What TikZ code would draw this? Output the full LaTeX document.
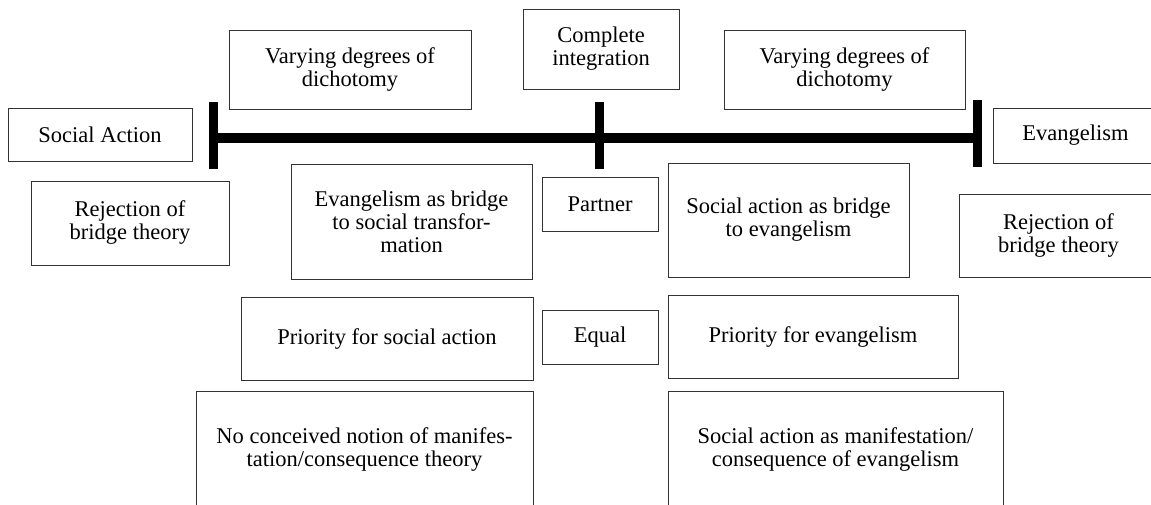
\documentclass[tikz,border=0pt]{standalone}
\usepackage{fontspec}
\setmainfont{Liberation Serif}
\newfontfamily\boxfont{Liberation Serif}

\begin{document}
\begin{tikzpicture}[
x=1pt,y=-1pt,
every node/.style={
draw=black!80,
line width=0.9pt,
inner sep=0pt,
align=center,
font=\boxfont\fontsize{22.5}{23}\selectfont
},
bar/.style={line width=10pt},
tick/.style={line width=9pt}
]
\useasboundingbox (0,0) rectangle (1151,504);

\coordinate (barL) at (213,138);
\coordinate (barM) at (599.5,138);
\coordinate (barR) at (977.5,138);

\draw[bar] (barL)--(barR);
\draw[tick] (barL) ++(0,-36) -- ++(0,67);
\draw[tick] (barM) ++(0,-36) -- ++(0,67);
\draw[tick] (barR) ++(0,-38) -- ++(0,67);

\node[minimum width=184pt,minimum height=53pt] (social) at (100,134.5) {Social Action};
\node[minimum width=242pt,minimum height=79pt] (varyL) at (350,69.5) {Varying degrees of\\dichotomy};
\node[minimum width=156pt,minimum height=80pt] (complete) at (601,49) {Complete\\integration};
\node[minimum width=241pt,minimum height=79pt] (varyR) at (844.5,69.5) {Varying degrees of\\dichotomy};
\node[minimum width=165pt,minimum height=55pt] (evang) at (1075.5,135.5) {Evangelism};

\node[minimum width=198pt,minimum height=84pt] (rejectL) at (130,223) {Rejection of\\bridge theory};
\node[minimum width=241pt,minimum height=115pt] (evbridge) at (411.5,221.5) {Evangelism as bridge\\to social transfor-\\mation};
\node[minimum width=116pt,minimum height=54pt] (partner) at (600,204) {Partner};
\node[minimum width=241pt,minimum height=114pt] (sabridge) at (788.5,220) {Social action as bridge\\to evangelism};
\node[minimum width=199pt,minimum height=83pt] (rejectR) at (1058.5,235.5) {Rejection of\\bridge theory};

\node[minimum width=292pt,minimum height=83pt] (priosa) at (387,338.5) {Priority for social action};
\node[minimum width=116pt,minimum height=54pt] (equal) at (600,337) {Equal};
\node[minimum width=290pt,minimum height=83pt] (prioev) at (813,336.5) {Priority for evangelism};

\node[minimum width=337pt,minimum height=117pt] (nonotion) at (364.5,449.5) {No conceived notion of manifes-\\tation/consequence theory};
\node[minimum width=335pt,minimum height=117pt] (manifest) at (835.5,449.5) {Social action as manifestation/\\consequence of evangelism};

\end{tikzpicture}
\end{document}
